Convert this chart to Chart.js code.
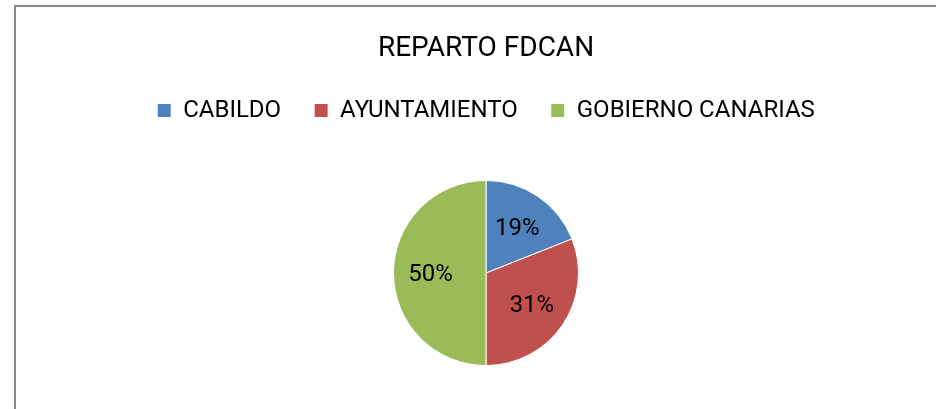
<!DOCTYPE html>
<html>
<head>
<meta charset="utf-8">
<script src="https://cdn.jsdelivr.net/npm/chart.js@4"></script>
<style>
  html, body { margin: 0; padding: 0; background: #fff; overflow: hidden; }
  #wrap { position: relative; width: 936px; height: 409px; }
  #frame { position: absolute; left: 14px; top: 5px; width: 940px; height: 420px;
           border-left: 2px solid #878787; border-top: 2px solid #878787; box-sizing: border-box; }
  canvas { position: absolute; left: 0; top: 0; }
</style>
</head>
<body>
<div id="wrap">
  <div id="frame"></div>
  <canvas id="c" width="936" height="409"></canvas>
</div>
<script>
const chartTitle = 'REPARTO FDCAN';
const categories = ['CABILDO', 'AYUNTAMIENTO', 'GOBIERNO CANARIAS'];
const shares = [19, 31, 50];
const sliceColors = ['#4F81BD', '#C0504D', '#9BBB59'];

const FONT = "Roboto, 'Liberation Sans', Arial, sans-serif";

// place the plot area (pie box) where the reference has it
const plotBox = {
  id: 'plotBox',
  afterLayout(chart) {
    const a = chart.chartArea;
    a.left = 393; a.right = 579; a.top = 180; a.bottom = 366;
    a.width = a.right - a.left; a.height = a.bottom - a.top;
  }
};

const pctLabels = {
  id: 'pctLabels',
  afterDatasetsDraw(chart) {
    const ctx = chart.ctx;
    const meta = chart.getDatasetMeta(0);
    const data = chart.data.datasets[0].data;
    const total = data.reduce((a, b) => a + b, 0);
    ctx.save();
    ctx.font = '24px ' + FONT;
    ctx.fillStyle = '#000';
    ctx.textAlign = 'center';
    ctx.textBaseline = 'middle';
    meta.data.forEach((arc, i) => {
      const p = arc.getProps(['x', 'y', 'startAngle', 'endAngle', 'outerRadius'], true);
      const mid = (p.startAngle + p.endAngle) / 2;
      const r = p.outerRadius * 0.6;
      const txt = Math.round(data[i] / total * 100) + '%';
      ctx.fillText(txt, p.x + Math.cos(mid) * r, p.y + Math.sin(mid) * r + 2);
    });
    ctx.restore();
  }
};

new Chart(document.getElementById('c'), {
  type: 'pie',
  data: {
    labels: categories,
    datasets: [{
      data: shares,
      backgroundColor: sliceColors,
      borderColor: '#ffffff',
      borderWidth: 1
    }]
  },
  options: {
    responsive: false,
    animation: false,
    layout: { padding: { left: 36, right: 0, top: 0, bottom: 0 } },
    plugins: {
      tooltip: { enabled: false },
      title: {
        display: true,
        text: chartTitle,
        color: '#000',
        font: { family: FONT, size: 28, weight: 'normal', lineHeight: 0.8 },
        padding: { top: 37.8, bottom: 5.3 }
      },
      legend: {
        display: true,
        position: 'top',
        labels: {
          color: '#000',
          font: { family: FONT, size: 24 },
          boxWidth: 14,
          boxHeight: 14,
          padding: 33
        }
      }
    }
  },
  plugins: [plotBox, pctLabels]
});
</script>
</body>
</html>
